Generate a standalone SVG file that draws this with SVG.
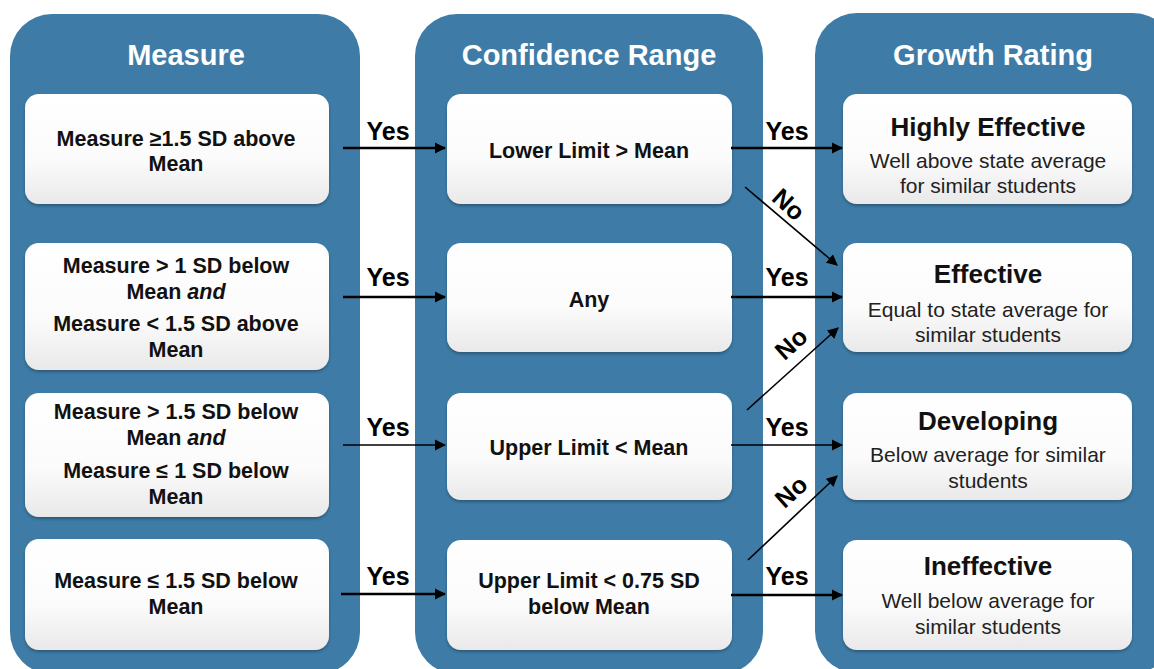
<svg xmlns="http://www.w3.org/2000/svg" width="1154" height="669" viewBox="0 0 1154 669">
<defs>
<linearGradient id="bx" x1="0" y1="0" x2="0" y2="1">
<stop offset="0" stop-color="#ffffff"/>
<stop offset="0.6" stop-color="#fbfbfb"/>
<stop offset="1" stop-color="#e9e9e9"/>
</linearGradient>
<filter id="sh" x="-5%" y="-5%" width="110%" height="115%">
<feDropShadow dx="0" dy="2" stdDeviation="1.5" flood-color="#1d3f58" flood-opacity="0.6"/>
</filter>
<marker id="ah" viewBox="0 0 10 10" refX="9" refY="5" markerWidth="4.5" markerHeight="4.5" orient="auto" markerUnits="strokeWidth">
<path d="M0,0 L10,5 L0,10 z" fill="#000"/>
</marker>
<marker id="ah2" viewBox="0 0 10 10" refX="9" refY="5" markerWidth="7" markerHeight="7" orient="auto" markerUnits="strokeWidth">
<path d="M0,0 L10,5 L0,10 z" fill="#000"/>
</marker>
</defs>
<style>
.panel{fill:#3e7ca7}
.box{fill:url(#bx);filter:url(#sh)}
.title{font-family:"Liberation Sans",Arial,sans-serif;font-weight:bold;font-size:29px;fill:#fff;text-anchor:middle}
.t{font-family:"Liberation Sans",Arial,sans-serif;font-weight:bold;font-size:21.5px;fill:#111;text-anchor:middle}
.h{font-family:"Liberation Sans",Arial,sans-serif;font-weight:bold;font-size:26px;fill:#111;text-anchor:middle}
.d{font-family:"Liberation Sans",Arial,sans-serif;font-size:21px;fill:#222;text-anchor:middle}
.lbl{font-family:"Liberation Sans",Arial,sans-serif;font-weight:bold;font-size:25px;fill:#000;text-anchor:middle}
.c{stroke:#000;stroke-width:2.5;fill:none;marker-end:url(#ah)}
.c2{stroke:#000;stroke-width:1.6;fill:none;marker-end:url(#ah2)}
</style>
<rect width="1154" height="669" fill="#fff"/>

<g id="col-measure">
<rect class="panel" x="10" y="14" width="350" height="660" rx="42"/>
<text class="title" x="186" y="65">Measure</text>
</g>
<g id="col-confidence">
<rect class="panel" x="415" y="14" width="348" height="660" rx="42"/>
<text class="title" x="589" y="65">Confidence Range</text>
</g>
<g id="col-growth">
<rect class="panel" x="815" y="13" width="360" height="660" rx="42"/>
<text class="title" x="993" y="65">Growth Rating</text>
</g>

<g id="m1">
<rect class="box" x="25" y="94" width="304" height="110" rx="14"/>
<text class="t" x="176" y="146">Measure ≥1.5 SD above</text>
<text class="t" x="176" y="171">Mean</text>
</g>
<g id="m2">
<rect class="box" x="25" y="243" width="304" height="127" rx="14"/>
<text class="t" x="176" y="273">Measure &gt; 1 SD below</text>
<text class="t" x="176" y="299">Mean  <tspan font-style="italic">and</tspan></text>
<text class="t" x="176" y="331">Measure  &lt; 1.5 SD above</text>
<text class="t" x="176" y="357">Mean</text>
</g>
<g id="m3">
<rect class="box" x="25" y="393" width="304" height="124" rx="14"/>
<text class="t" x="176" y="419">Measure &gt; 1.5 SD below</text>
<text class="t" x="176" y="445">Mean <tspan font-style="italic">and</tspan></text>
<text class="t" x="176" y="478">Measure  ≤  1 SD below</text>
<text class="t" x="176" y="504">Mean</text>
</g>
<g id="m4">
<rect class="box" x="25" y="539" width="304" height="111" rx="14"/>
<text class="t" x="176" y="588">Measure ≤  1.5 SD below</text>
<text class="t" x="176" y="614">Mean</text>
</g>

<g id="c1">
<rect class="box" x="447" y="94" width="285" height="110" rx="14"/>
<text class="t" x="589" y="158">Lower Limit &gt; Mean</text>
</g>
<g id="c2">
<rect class="box" x="447" y="243" width="285" height="109" rx="14"/>
<text class="t" x="589" y="307" font-size="28">Any</text>
</g>
<g id="c3">
<rect class="box" x="447" y="393" width="285" height="107" rx="14"/>
<text class="t" x="589" y="455">Upper Limit &lt; Mean</text>
</g>
<g id="c4">
<rect class="box" x="447" y="540" width="285" height="110" rx="14"/>
<text class="t" x="589" y="588">Upper Limit &lt; 0.75 SD</text>
<text class="t" x="589" y="614">below Mean</text>
</g>

<g id="g1">
<rect class="box" x="843" y="94" width="289" height="110" rx="14"/>
<text class="h" x="988" y="136">Highly Effective</text>
<text class="d" x="988" y="168">Well above state average</text>
<text class="d" x="988" y="193">for similar students</text>
</g>
<g id="g2">
<rect class="box" x="843" y="243" width="289" height="109" rx="14"/>
<text class="h" x="988" y="283">Effective</text>
<text class="d" x="988" y="317">Equal to state average for</text>
<text class="d" x="988" y="342">similar students</text>
</g>
<g id="g3">
<rect class="box" x="843" y="393" width="289" height="107" rx="14"/>
<text class="h" x="988" y="430">Developing</text>
<text class="d" x="988" y="462">Below average for similar</text>
<text class="d" x="988" y="488">students</text>
</g>
<g id="g4">
<rect class="box" x="843" y="540" width="289" height="110" rx="14"/>
<text class="h" x="988" y="575">Ineffective</text>
<text class="d" x="988" y="608">Well below average for</text>
<text class="d" x="988" y="634">similar students</text>
</g>

<g id="connectors">
<line class="c" x1="343" y1="148" x2="445" y2="148"/>
<line class="c" x1="343" y1="297" x2="445" y2="297"/>
<line class="c2" x1="343" y1="445" x2="445" y2="445"/>
<line class="c" x1="341" y1="594" x2="445" y2="594"/>
<text class="lbl" x="388" y="140">Yes</text>
<text class="lbl" x="388" y="286">Yes</text>
<text class="lbl" x="388" y="436">Yes</text>
<text class="lbl" x="388" y="585">Yes</text>

<line class="c" x1="731" y1="148" x2="842" y2="148"/>
<line class="c" x1="731" y1="297" x2="842" y2="297"/>
<line class="c2" x1="731" y1="445" x2="842" y2="445"/>
<line class="c" x1="731" y1="595" x2="842" y2="595"/>
<text class="lbl" x="787" y="140">Yes</text>
<text class="lbl" x="787" y="286">Yes</text>
<text class="lbl" x="787" y="436">Yes</text>
<text class="lbl" x="787" y="585">Yes</text>

<line class="c2" x1="745" y1="187" x2="837" y2="265"/>
<line class="c2" x1="747" y1="410" x2="838" y2="328"/>
<line class="c2" x1="748" y1="560" x2="837" y2="476"/>
<text class="lbl" transform="translate(783,211) rotate(42)" x="0" y="0" font-size="22">No</text>
<text class="lbl" transform="translate(797,350) rotate(-42)" x="0" y="0" font-size="22">No</text>
<text class="lbl" transform="translate(797,498) rotate(-42)" x="0" y="0" font-size="22">No</text>
</g>
</svg>
